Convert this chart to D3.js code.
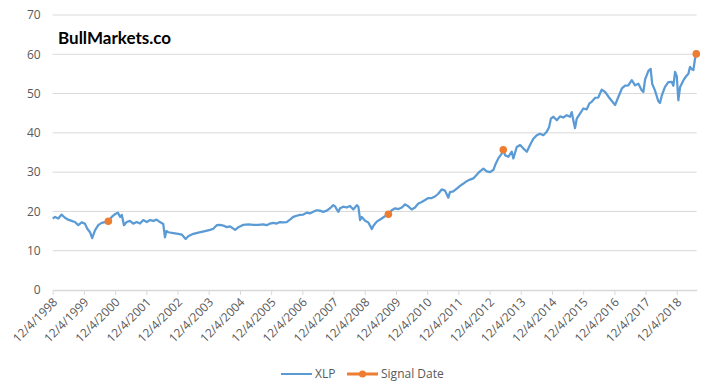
<!DOCTYPE html>
<html>
<head>
<meta charset="utf-8">
<script src="https://d3js.org/d3.v7.min.js"></script>
<style>
  html, body { margin: 0; padding: 0; background: #fff; overflow: hidden; }
  #chart { width: 720px; height: 391px; }
  #chart svg { display: block; overflow: visible; }
  .tick text { font-family: "Open Sans", sans-serif; font-size: 12px; fill: #595959; }
  .legend text { font-family: "Open Sans", sans-serif; font-size: 12px; fill: #595959; }
</style>
</head>
<body>
<div id="chart"></div>
<script>
// XLP price
const xlpDates = [
  "1998-12-04","1999-01-01","1999-02-08","1999-03-18","1999-04-26","1999-06-04","1999-07-13","1999-08-21","1999-09-29","1999-11-08","1999-12-16",
  "2000-01-13","2000-02-14","2000-03-10","2000-04-12","2000-05-20","2000-06-29","2000-08-07","2000-09-15","2000-10-25","2000-12-03",
  "2001-01-04","2001-02-01","2001-02-20","2001-03-17","2001-04-18","2001-05-26","2001-07-04","2001-08-13","2001-09-21","2001-10-29","2001-12-09",
  "2002-01-17","2002-02-25","2002-04-04","2002-05-12","2002-06-20","2002-07-10","2002-07-27","2002-08-18","2002-10-16","2002-12-13",
  "2003-01-23","2003-03-09","2003-04-09","2003-06-07","2003-08-04","2003-10-22","2003-12-19",
  "2004-01-27","2004-03-07","2004-04-15","2004-05-23","2004-07-02","2004-08-10","2004-10-08","2004-11-16",
  "2005-01-13","2005-03-11","2005-05-09","2005-07-07","2005-09-04","2005-10-13","2005-11-21","2005-12-30",
  "2006-02-08","2006-03-17","2006-04-25","2006-06-04","2006-07-12","2006-08-20","2006-09-29","2006-11-07","2006-12-16",
  "2007-01-25","2007-03-03","2007-04-11","2007-05-21","2007-06-28","2007-08-06","2007-09-15","2007-10-24","2007-12-02","2007-12-22",
  "2008-01-11","2008-01-30","2008-02-19","2008-03-27","2008-05-06","2008-06-14","2008-07-23","2008-09-02","2008-09-20","2008-10-10","2008-10-29","2008-12-08",
  "2009-01-15","2009-02-25","2009-03-13","2009-04-23","2009-06-20","2009-07-29","2009-09-06","2009-10-16","2009-11-24",
  "2010-01-02","2010-02-11","2010-03-20","2010-04-27","2010-06-06","2010-07-15","2010-08-23","2010-10-02","2010-11-10","2010-12-18",
  "2011-01-27","2011-03-05","2011-04-13","2011-05-23","2011-07-01","2011-08-09","2011-08-28","2011-10-06","2011-11-16","2011-12-24",
  "2012-02-02","2012-03-11","2012-04-19","2012-05-27","2012-07-25","2012-08-14","2012-09-22","2012-11-01","2012-12-10",
  "2013-01-18","2013-02-07","2013-03-16","2013-04-25","2013-05-13","2013-06-03","2013-07-11","2013-08-20","2013-09-08","2013-10-18","2013-11-26",
  "2014-01-04","2014-02-13","2014-03-22","2014-04-30","2014-06-09","2014-07-17","2014-08-25","2014-10-04","2014-11-01","2014-11-21","2014-12-21",
  "2015-01-30","2015-03-08","2015-04-16","2015-05-25","2015-07-03","2015-07-23","2015-08-11","2015-08-31","2015-09-20","2015-10-28","2015-12-06",
  "2016-01-15","2016-02-15","2016-03-13","2016-04-21","2016-05-29","2016-07-08","2016-08-17","2016-09-25","2016-11-04","2016-12-12",
  "2017-01-20","2017-03-01","2017-04-08","2017-05-16","2017-06-25","2017-08-03","2017-09-11","2017-10-20","2017-11-08","2017-11-28",
  "2018-01-06","2018-02-01","2018-02-19","2018-03-23","2018-05-01","2018-05-21","2018-06-10","2018-07-19","2018-08-27","2018-10-06","2018-10-25","2018-11-14","2018-12-04","2018-12-22",
  "2019-01-12","2019-02-20","2019-03-30","2019-04-18","2019-05-08","2019-05-27","2019-06-16","2019-07-05","2019-07-20"
];
const xlpValues = [
  18.2,18.6,18.2,19.2,18.4,17.9,17.6,17.3,16.5,17.2,16.9,
  15.6,14.7,13.2,15.2,16.5,17.1,17.3,17.5,18.6,19.3,
  19.7,18.6,19.1,16.5,17.3,17.6,16.9,17.3,16.9,17.8,17.3,
  17.8,17.6,17.9,17.3,16.8,13.4,15.0,14.7,14.5,14.3,
  14.1,13.0,13.7,14.3,14.6,15.0,15.3,
  15.6,16.5,16.6,16.4,16.0,16.2,15.3,16.0,
  16.6,16.7,16.6,16.6,16.7,16.5,16.9,17.1,
  16.9,17.3,17.2,17.3,17.9,18.6,18.9,19.1,19.2,
  19.7,19.5,19.9,20.3,20.2,19.9,20.2,20.8,21.6,21.3,
  20.5,19.9,20.8,21.2,21.0,21.4,20.5,21.6,21.2,17.8,18.6,17.6,
  17.2,15.5,16.3,17.4,18.2,18.8,19.3,20.3,20.8,
  20.6,21.0,21.8,21.3,20.5,21.0,22.0,22.4,22.9,23.4,
  23.4,23.8,24.5,25.6,25.3,23.5,24.9,25.1,25.8,26.5,
  27.1,27.7,28.1,28.4,29.8,30.2,30.9,30.2,30.0,
  30.6,31.8,33.5,34.7,35.7,34.3,33.9,35.2,33.5,36.4,36.9,
  36.0,35.2,36.9,38.5,39.4,39.8,39.4,40.3,41.5,43.6,44.1,
  43.2,44.2,43.9,44.5,44.1,45.3,43.2,41.2,43.6,44.9,46.2,
  46.0,47.5,47.9,48.9,49.0,51.0,50.4,49.2,48.1,47.1,
  49.2,51.3,52.0,52.1,53.4,52.1,52.5,50.8,50.4,53.6,
  55.8,56.3,52.5,50.8,48.1,47.6,49.4,51.7,52.9,53.0,52.0,55.5,54.4,48.3,
  51.7,53.4,54.6,55.0,56.8,56.2,56.0,58.8,60.1
];
// signal dates
const signalDates = ["2000-09-15","2009-09-06","2013-05-13","2019-07-20"];
const signalValues = [17.5, 19.3, 35.7, 60.1];

const yTicks = [0, 10, 20, 30, 40, 50, 60, 70];
const xTickYears = d3.range(1998, 2019);
const domainStart = "1998-12-04";
const domainEnd = "2019-07-25";

const colors = { xlp: "#5b9bd5", signal: "#ed7d31", grid: "#d9d9d9", text: "#595959" };
const margin = { top: 15, right: 23.3, bottom: 101, left: 52.7 };
const width = 720, height = 391;
const innerWidth = width - margin.left - margin.right;
const innerHeight = height - margin.top - margin.bottom;

const parse = d3.utcParse("%Y-%m-%d");
const xlp = xlpDates.map((d, i) => ({ date: parse(d), value: xlpValues[i] }));
const signals = signalDates.map((d, i) => ({ date: parse(d), value: signalValues[i] }));

const svg = d3.select("#chart").append("svg")
    .attr("width", width)
    .attr("height", height);

const g = svg.append("g")
    .attr("transform", `translate(${margin.left},${margin.top})`);

const xScale = d3.scaleUtc()
    .domain([parse(domainStart), parse(domainEnd)])
    .range([0, innerWidth]);
const yScale = d3.scaleLinear()
    .domain([0, 70])
    .range([innerHeight, 0]);

// gridlines
g.selectAll(".grid")
    .data(yTicks.filter(d => d > 0))
    .join("line")
    .attr("class", "grid")
    .attr("x1", 0)
    .attr("x2", innerWidth)
    .attr("y1", d => yScale(d))
    .attr("y2", d => yScale(d))
    .attr("stroke", colors.grid)
    .attr("stroke-width", 1);

// y axis (labels only)
const yAxisGroup = g.append("g")
    .call(d3.axisLeft(yScale).tickValues(yTicks).tickSize(0).tickPadding(12));
yAxisGroup.select(".domain").remove();

// x axis
const xTicks = xTickYears.map(y => new Date(Date.UTC(y, 11, 4)));
const xAxisGroup = g.append("g")
    .attr("transform", `translate(0,${innerHeight})`)
    .call(d3.axisBottom(xScale)
        .tickValues(xTicks)
        .tickFormat(d3.utcFormat("%-m/%-d/%Y"))
        .tickSizeInner(5)
        .tickSizeOuter(0));
xAxisGroup.select(".domain").attr("stroke", colors.grid).attr("stroke-width", 1.5);
xAxisGroup.selectAll(".tick line").attr("stroke", colors.grid);
xAxisGroup.selectAll(".tick text")
    .attr("text-anchor", "end")
    .attr("dx", 0)
    .attr("dy", 0)
    .attr("y", 0)
    .attr("transform", "translate(5,13) rotate(-45)");

// XLP line
const line = d3.line()
    .x(d => xScale(d.date))
    .y(d => yScale(d.value));

g.append("path")
    .datum(xlp)
    .attr("fill", "none")
    .attr("stroke", colors.xlp)
    .attr("stroke-width", 2.25)
    .attr("stroke-linejoin", "round")
    .attr("d", line);

// signal markers
g.selectAll(".signal")
    .data(signals)
    .join("circle")
    .attr("class", "signal")
    .attr("cx", d => xScale(d.date))
    .attr("cy", d => yScale(d.value))
    .attr("r", 3.8)
    .attr("fill", colors.signal);

// watermark
svg.append("text")
    .attr("x", 58)
    .attr("y", 44)
    .attr("font-family", "Lato, sans-serif")
    .attr("font-weight", "bold")
    .attr("font-size", 17)
    .attr("fill", "#000")
    .text("BullMarkets.co");

// legend
const legend = svg.append("g").attr("class", "legend");
legend.append("line")
    .attr("x1", 281).attr("x2", 312).attr("y1", 374).attr("y2", 374)
    .attr("stroke", colors.xlp).attr("stroke-width", 2);
legend.append("text").attr("x", 315).attr("y", 378).text("XLP");
legend.append("line")
    .attr("x1", 347).attr("x2", 378).attr("y1", 374).attr("y2", 374)
    .attr("stroke", colors.signal).attr("stroke-width", 3);
legend.append("circle")
    .attr("cx", 362.5).attr("cy", 374).attr("r", 3.5)
    .attr("fill", colors.signal);
legend.append("text").attr("x", 381).attr("y", 378).text("Signal Date");
</script>
</body>
</html>
